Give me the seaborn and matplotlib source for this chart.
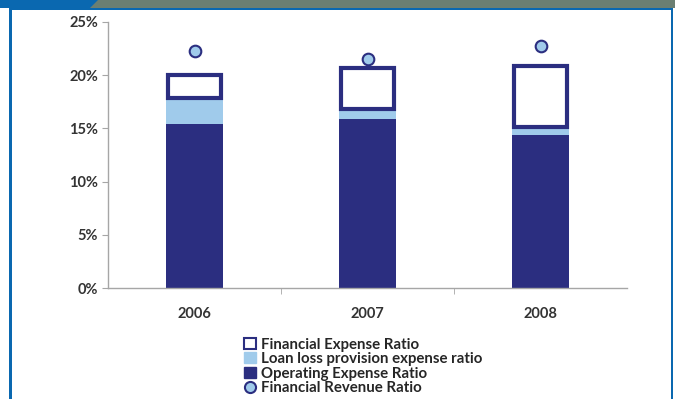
import matplotlib
matplotlib.use("Agg")
import matplotlib.pyplot as plt
import seaborn as sns
import pandas as pd
import numpy as np
from matplotlib.patches import Rectangle, Polygon
from matplotlib.lines import Line2D

years = ["2006", "2007", "2008"]
operating_expense = [15.4, 15.9, 14.4]
loan_loss = [2.5, 0.9, 0.7]
financial_expense = [2.1, 3.9, 5.8]
financial_revenue = [22.3, 21.5, 22.7]
yticks = [0, 5, 10, 15, 20, 25]

NAVY = "#2b2e80"
LIGHT = "#a0cbeb"
BLUE = "#0a68b0"
BAND = "#6b7f72"

sns.set_style("white")
plt.rcParams["font.family"] = ["Lato", "DejaVu Sans"]

df = pd.DataFrame({
    "year": years,
    "op": operating_expense,
    "loan": loan_loss,
    "fin": financial_expense,
    "rev": financial_revenue,
})
df["loan_bottom"] = df["op"]
df["fin_bottom"] = df["op"] + df["loan"]

fig = plt.figure(figsize=(6.75, 3.99), dpi=100)
ax = fig.add_axes([0.16, 0.278, 0.769, 0.667])

W = 0.33
sns.barplot(data=df, x="year", y="op", color=NAVY, width=W, ax=ax,
            saturation=1, edgecolor=NAVY, linewidth=0)
sns.barplot(data=df, x="year", y="loan", bottom=df["loan_bottom"], color=LIGHT,
            width=W, ax=ax, saturation=1, linewidth=0)
sns.barplot(data=df, x="year", y="fin", bottom=df["fin_bottom"], color="white",
            width=W - 0.02, ax=ax, saturation=1, edgecolor=NAVY, linewidth=3)
sns.scatterplot(data=df, x="year", y="rev", ax=ax, s=70, color=LIGHT,
                edgecolor=NAVY, linewidth=1.5, zorder=5)

ax.set_xlim(-0.5, 2.5)
ax.set_ylim(0, 25)
ax.set_yticks(yticks)
ax.set_yticklabels([f"{v}%" for v in yticks])
ax.set_xlabel("")
ax.set_ylabel("")
for s in ["top", "right"]:
    ax.spines[s].set_visible(False)
for s in ["left", "bottom"]:
    ax.spines[s].set_color("#a6a6a6")
    ax.spines[s].set_linewidth(1)
ax.tick_params(axis="y", left=True, length=4, color="#a6a6a6", labelsize=10.5,
               labelcolor="#333333", pad=3)
ax.tick_params(axis="x", bottom=False, labelsize=10.5, labelcolor="#333333", pad=10)
for lab in ax.get_xticklabels() + ax.get_yticklabels():
    lab.set_fontweight("bold")
ax.set_xticks([0.5, 1.5], minor=True)
ax.tick_params(axis="x", which="minor", bottom=True, length=4, color="#a6a6a6")

handles = [
    Rectangle((0, 0), 1, 1, facecolor="white", edgecolor=NAVY, linewidth=1.5),
    Rectangle((0, 0), 1, 1, facecolor=LIGHT, edgecolor=LIGHT),
    Rectangle((0, 0), 1, 1, facecolor=NAVY, edgecolor=NAVY),
    Line2D([], [], marker="o", linestyle="none", markersize=8,
           markerfacecolor=LIGHT, markeredgecolor=NAVY, markeredgewidth=1.5),
]
labels = ["Financial Expense Ratio", "Loan loss provision expense ratio",
          "Operating Expense Ratio", "Financial Revenue Ratio"]
fig.legend(handles, labels, loc="upper left", bbox_to_anchor=(0.362, 0.154),
           frameon=False, prop={"size": 10.8, "weight": "bold"},
           handlelength=0.75, handleheight=0.75,
           handletextpad=0.35, labelspacing=0.04, borderpad=0, borderaxespad=0)

# decorative frame
fig.patches.append(Rectangle((0, 1 - 8 / 399), 1, 8 / 399, transform=fig.transFigure,
                             facecolor=BAND, edgecolor="none", zorder=0))
fig.patches.append(Polygon([(0, 1), (98 / 675, 1), (90 / 675, 1 - 8 / 399), (0, 1 - 8 / 399)],
                           closed=True, transform=fig.transFigure,
                           facecolor=BLUE, edgecolor="none", zorder=1))
fig.patches.append(Rectangle((9 / 675, 0), 2.5 / 675, 1 - 8 / 399, transform=fig.transFigure,
                             facecolor=BLUE, edgecolor="none", zorder=1))
fig.patches.append(Rectangle((670.5 / 675, 0), 2.5 / 675, 1 - 8 / 399, transform=fig.transFigure,
                             facecolor=BLUE, edgecolor="none", zorder=1))
fig.patches.append(Rectangle((9 / 675, 1 - 9.5 / 399), 664 / 675, 1.5 / 399,
                             transform=fig.transFigure,
                             facecolor=BLUE, edgecolor="none", zorder=1))

fig.savefig("out.png", dpi=100)
